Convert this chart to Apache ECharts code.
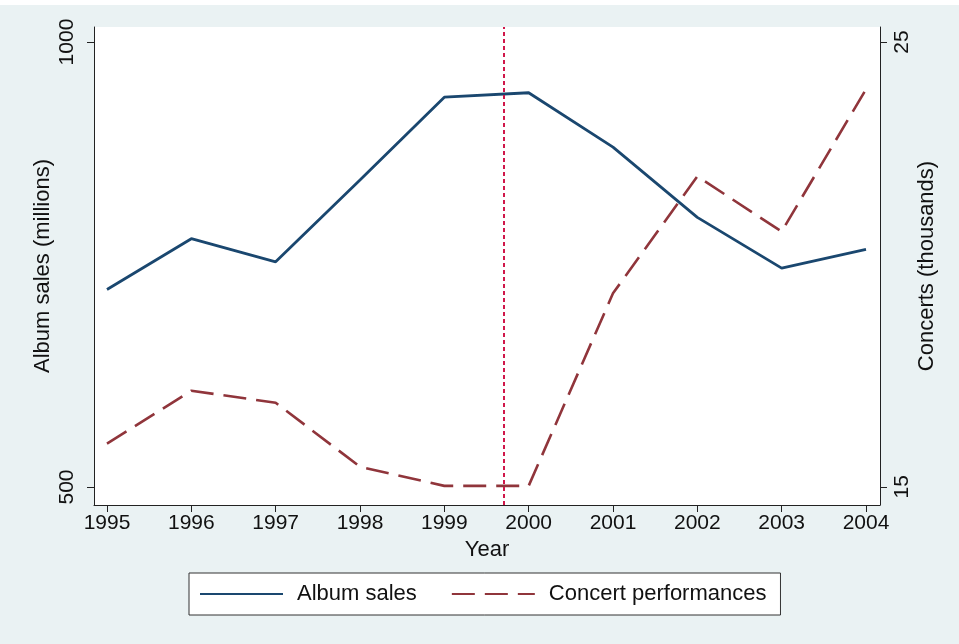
<!DOCTYPE html>
<html>
<head>
<meta charset="utf-8">
<script src="https://cdn.jsdelivr.net/npm/echarts@6/dist/echarts.min.js"></script>
<style>
  html, body { margin: 0; padding: 0; background: #ffffff; }
  #chart { width: 959px; height: 639px; margin-top: 5px; background: #eaf2f3; }
</style>
</head>
<body>
<div id="chart"></div>
<script>
  // values
  var years = [1995, 1996, 1997, 1998, 1999, 2000, 2001, 2002, 2003, 2004];
  var albumSales = [722, 779, 753, 845, 938, 943, 882, 803, 746, 767];
  var concerts = [15.97, 17.16, 16.89, 15.45, 15.02, 15.02, 19.35, 21.98, 20.74, 23.94];
  var leftTicks = [500, 1000];
  var rightTicks = [15, 25];
  var markYear = 1999.7;

  var chart = echarts.init(document.getElementById('chart'), null, { renderer: 'canvas' });

  var font = 'Liberation Sans, Arial, sans-serif';
  var axisCol = '#222222';
  var plain = function (v) { return String(v); };

  var option = {
    animation: false,
    textStyle: { fontFamily: font },
    grid: { left: 94, right: 79, top: 22, bottom: 139, show: true, backgroundColor: '#ffffff', borderWidth: 0 },
    legend: {
      left: 189, top: 568,
      padding: [10, 14, 10, 10],
      backgroundColor: '#ffffff',
      borderColor: '#333333', borderWidth: 1,
      itemWidth: 83, itemHeight: 14, itemGap: 34,
      itemStyle: { opacity: 0 },
      textStyle: { fontSize: 22, color: '#111111', padding: [0, 0, 0, 9] },
      data: ['Album sales', 'Concert performances']
    },
    xAxis: {
      type: 'value',
      min: 1994.846, max: 2004.166,
      name: 'Year', nameLocation: 'middle', nameGap: 33,
      nameTextStyle: { fontSize: 22, color: '#111111' },
      axisLine: { show: true, lineStyle: { color: axisCol, width: 1 } },
      axisTick: { show: true, length: 7, customValues: years, lineStyle: { color: axisCol } },
      axisLabel: { customValues: years, fontSize: 21, color: '#111111', margin: 8, formatter: plain },
      splitLine: { show: false }
    },
    yAxis: [{
      type: 'value', position: 'left',
      min: 479.8, max: 1016.9,
      name: 'Album sales (millions)', nameLocation: 'middle', nameGap: 40,
      nameMoveOverlap: false,
      nameTextStyle: { fontSize: 22, color: '#111111' },
      axisLine: { show: true, lineStyle: { color: axisCol, width: 1 } },
      axisTick: { show: true, length: 7, customValues: leftTicks, lineStyle: { color: axisCol } },
      axisLabel: { customValues: leftTicks, rotate: 90, fontSize: 21, color: '#111111', margin: 16, formatter: plain },
      splitLine: { show: false }
    }, {
      type: 'value', position: 'right',
      min: 14.59, max: 25.34,
      name: 'Concerts (thousands)', nameLocation: 'middle', nameGap: 36,
      nameRotate: 90, nameMoveOverlap: false,
      nameTextStyle: { fontSize: 22, color: '#111111' },
      axisLine: { show: true, lineStyle: { color: axisCol, width: 1 } },
      axisTick: { show: true, length: 7, customValues: rightTicks, lineStyle: { color: axisCol } },
      axisLabel: { customValues: rightTicks, rotate: 90, fontSize: 21, color: '#111111', margin: 12, formatter: plain },
      splitLine: { show: false }
    }],
    series: [{
      name: 'Album sales',
      type: 'line',
      yAxisIndex: 0,
      symbol: 'none', showSymbol: false,
      data: years.map(function (y, i) { return [y, albumSales[i]]; }),
      lineStyle: { color: '#1a476f', width: 2.8 },
      itemStyle: { color: '#1a476f' },
      markLine: {
        silent: true, symbol: 'none',
        label: { show: false },
        lineStyle: { color: '#d0174a', width: 2, type: [4, 3] },
        data: [{ xAxis: markYear }]
      },
      z: 3
    }, {
      name: 'Concert performances',
      type: 'line',
      yAxisIndex: 1,
      symbol: 'none', showSymbol: false,
      data: years.map(function (y, i) { return [y, concerts[i]]; }),
      lineStyle: { color: '#90353b', width: 2.6, type: [23, 10] },
      itemStyle: { color: '#90353b' },
      z: 2
    }]
  };

  chart.setOption(option);
</script>
</body>
</html>
